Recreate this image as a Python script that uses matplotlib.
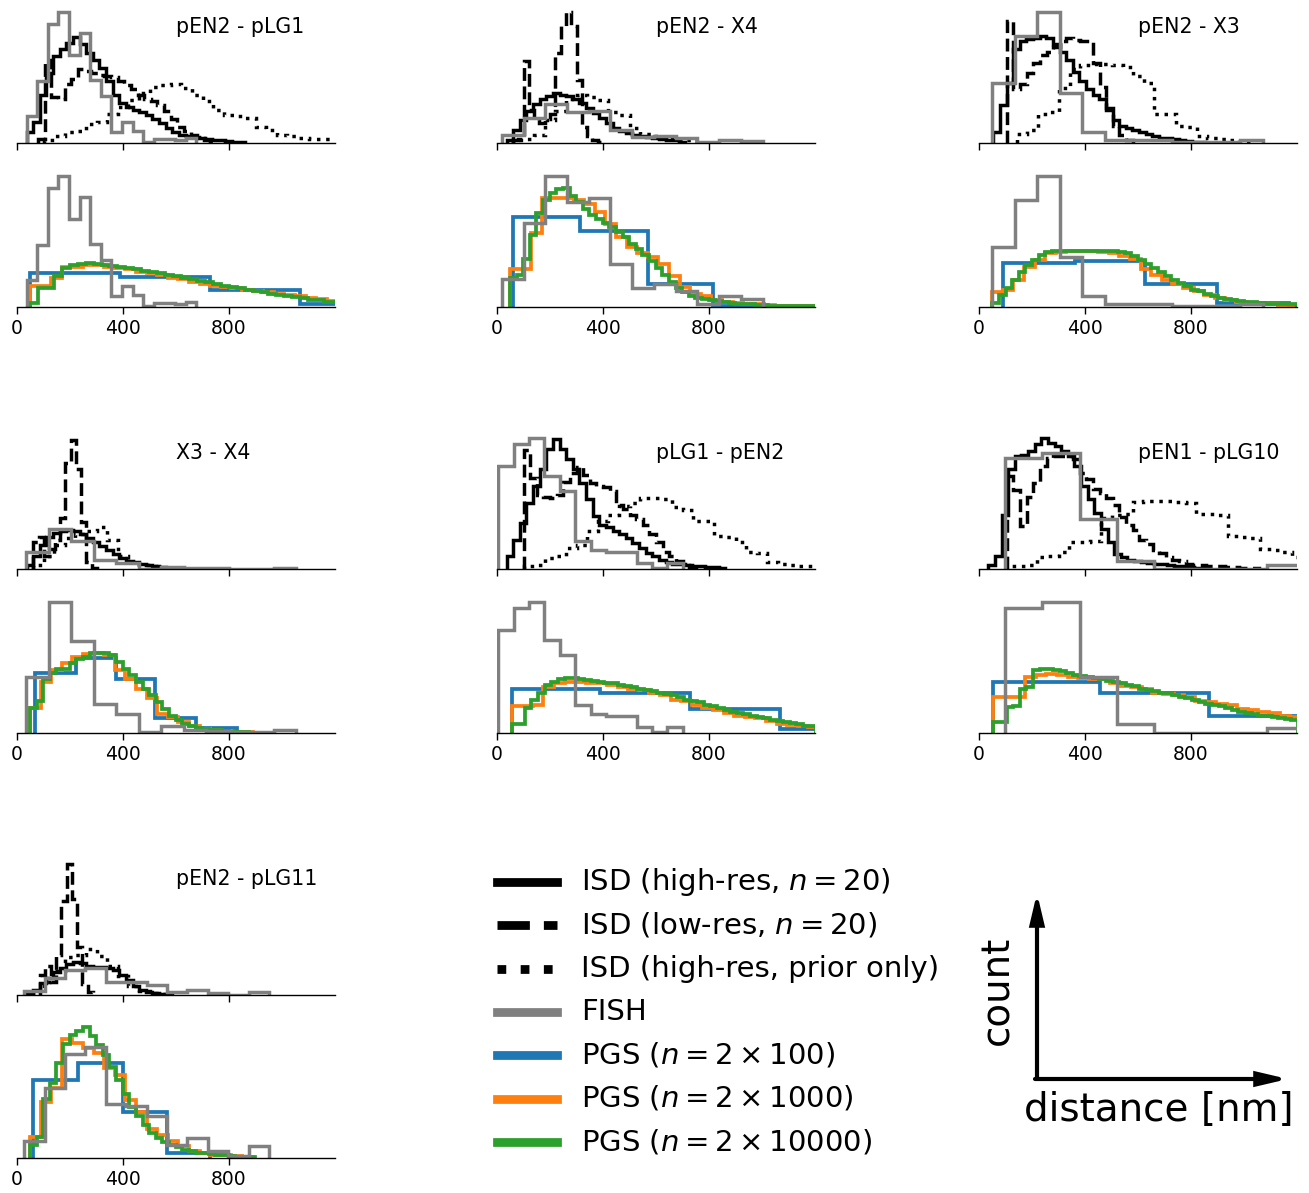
import matplotlib.pyplot as plt
import numpy as np
from matplotlib.lines import Line2D
from matplotlib.patches import FancyArrowPatch

# panel names, in reading order
panels = ["pEN2 - pLG1", "pEN2 - X4", "pEN2 - X3",
          "X3 - X4", "pLG1 - pEN2", "pEN1 - pLG10",
          "pEN2 - pLG11"]

# (first bin edge [nm], bin width [nm], heights in % of axes height)
isd_hi = {
    "pEN2 - pLG1": (36, 25, [8, 16, 36, 52, 65, 70, 75, 79, 74, 67, 62, 56, 46, 36, 30, 27, 25, 23, 21, 18,
                             15, 11, 8, 6, 5, 4.5, 4, 3, 2.5, 2, 1.5, 1, 0.5]),
    "pEN2 - X4": (36, 25, [2.5, 10, 17.5, 24, 29, 32.5, 35, 37, 36, 35, 32.5, 30, 26, 22.5, 19, 15, 11, 9,
                           7.5, 6, 5, 4.5, 4, 3, 2.5, 2, 1]),
    "pEN2 - X3": (54, 25, [8, 28, 45, 70, 76, 77.5, 78, 80, 78, 74, 68, 62, 53, 46, 40, 36, 33, 26, 17, 13,
                           11, 10, 8, 7, 5, 4, 3.5, 3, 2.5, 1.5, 1, 0.5]),
    "X3 - X4": (36, 25, [3, 10, 18, 24, 27, 28, 29, 28, 26, 23, 20, 17, 14, 11, 8, 6, 5, 4, 3, 2, 1.5, 1, 0.5]),
    "pLG1 - pEN2": (36, 25, [9.5, 22, 34.5, 49.5, 62, 74.5, 89.5, 97, 89.5, 82, 74.5, 64.5, 52, 39.5, 33, 31,
                             28, 26, 23, 19.5, 16, 12, 9.5, 7, 5, 4, 3.5, 3, 2.5, 2, 1.5, 1.5, 1]),
    "pEN1 - pLG10": (35, 25, [3, 10, 40, 75, 84, 85, 88, 93, 98, 94, 92, 88, 84, 77, 62, 52, 42, 30, 20, 11,
                              9, 7, 6, 5, 4.5, 4, 3.5, 3, 2.5, 2, 1.5, 1, 0.5]),
    "pEN2 - pLG11": (36, 25, [1, 4, 9, 13, 17, 20, 23, 25, 24, 22, 21, 21, 20.5, 19, 15, 11, 7, 4, 2.5, 1.5,
                              1, 0.5]),
}
isd_lo = {
    "pEN2 - pLG1": (80, 25, [3, 62, 34, 33, 44, 48, 55, 54, 52, 51, 50, 49, 46, 43, 40, 36, 33, 31, 28, 24,
                             18, 12, 9, 6, 4, 2, 1]),
    "pEN2 - X4": (60, 20, [2, 3, 61, 25, 18, 15, 18, 22, 67, 87, 98, 87, 47, 12, 5, 2, 1]),
    "pEN2 - X3": (105, 25, [91, 40, 44, 52, 60, 66, 68, 72, 76, 78, 77, 76, 76, 60, 42, 25, 13, 6, 2]),
    "X3 - X4": (62, 20, [20, 24, 10, 15, 22, 38, 79, 96, 75, 35, 5, 1]),
    "pLG1 - pEN2": (100, 25, [89, 68, 55, 54, 53, 55, 65, 72, 76, 70, 64, 62, 61, 58, 48, 45, 40, 37, 33, 26,
                              20, 13, 10, 6, 3, 1]),
    "pEN1 - pLG10": (105, 25, [69.5, 59, 32, 54, 64, 77, 83, 84, 84.5, 84, 82, 72, 67, 60, 57, 53, 48, 39, 33,
                               29, 22, 19, 14, 12, 9, 7, 6, 4, 3, 3, 2.5, 2, 2, 1.5, 1.5, 1, 1, 0.5]),
    "pEN2 - pLG11": (87, 20, [15, 22, 10, 30, 70, 97.5, 72, 36, 8, 2]),
}
isd_prior = {
    "pEN2 - pLG1": (100, 40, [2, 5, 8, 9, 14, 16, 22, 27, 32, 37, 42, 43, 44, 41, 36, 31, 25, 21, 20, 19, 12,
                              10, 6, 5, 4, 3, 3]),
    "pEN2 - X4": (60, 40, [2, 3, 6, 17, 24, 33, 36, 34, 32, 23, 21, 11, 7, 5, 4, 3, 2, 1.5]),
    "pEN2 - X3": (142, 40, [7, 10, 22, 23, 41, 55, 58, 59, 59, 58, 57, 50, 45, 22, 22, 13, 12, 5, 4, 3, 2, 1]),
    "X3 - X4": (60, 40, [3, 10, 18, 23, 26, 28, 31, 22, 10, 5, 3, 2, 1]),
    "pLG1 - pEN2": (100, 40, [2, 3, 8, 10, 16, 18, 28, 36, 40, 47, 49, 53, 53, 52, 46, 44, 36, 36, 25, 24, 20,
                              13, 12, 5, 4, 3, 2, 2]),
    "pEN1 - pLG10": (100, 40, [2, 2, 3, 9, 10, 13, 20, 20, 21, 38, 40, 41, 50, 51, 51, 51, 50, 49, 41, 41, 40,
                               25, 24, 23, 15, 14, 13, 9]),
    "pEN2 - pLG11": (60, 40, [3, 10, 18, 28, 30, 34, 29, 22, 14, 7, 3, 1.5, 0.5]),
}
fish = {
    "pEN2 - pLG1": (36, 40, [20, 46, 89, 98, 66, 82, 47, 35, 8, 16, 9, 1, 3, 3, 2, 4]),
    "pEN2 - X4": (18, 82, [21, 63, 98, 78, 81, 32, 14.5, 17, 12, 2, 8, 6]),
    "pEN2 - X3": (50, 85, [44.5, 79.5, 98, 37, 8, 2.5, 2.5, 2, 1, 0.5, 0.5, 2]),
    "X3 - X4": (34, 85, [42, 97.5, 69, 22, 14.5, 1, 5, 2, 1.5, 1, 1, 2]),
    "pLG1 - pEN2": (5, 58, [77, 93, 98, 69.5, 58, 21, 14.5, 13, 13, 4.5, 0.75, 4.5]),
    "pEN1 - pLG10": (98, 141, [93, 97.5, 42, 7, 0, 0, 0, 3.75]),
    "pEN2 - pLG11": (27, 77, [12.5, 52.5, 77.5, 82.5, 40, 38.5, 31, 10, 15, 5, 1.25, 8.75]),
}
# height of the FISH peak in the upper (ISD) axes, % of axes height
fish_top_peak = {"pEN2 - pLG1": 98, "pEN2 - X4": 29, "pEN2 - X3": 98, "X3 - X4": 29.5,
                 "pLG1 - pEN2": 98, "pEN1 - pLG10": 86.5, "pEN2 - pLG11": 20}

# PGS n=2x100: (bin edges, heights)
pgs_100 = {
    "pEN2 - pLG1": ([49, 389, 729, 1068, 1250], [25, 22.5, 12.5, 2.5]),
    "pEN2 - X4": ([62, 313, 571, 816, 1250], [67, 57, 17.5, 1]),
    "pEN2 - X3": ([92, 363, 628, 898, 1169, 1440], [33, 34.5, 17, 3, 1]),
    "X3 - X4": ([68, 222, 372, 522, 676, 830], [44.5, 56, 40, 11, 4]),
    "pLG1 - pEN2": ([55, 389, 728, 1068, 1250], [32.5, 29.5, 18, 3]),
    "pEN1 - pLG10": ([54, 457, 867, 1270], [38, 29.5, 13]),
    "pEN2 - pLG11": ([62, 232, 400, 565, 730], [58, 71, 34, 4]),
}
pgs_1000 = {
    "pEN2 - pLG1": (49, 40, [16, 16, 22, 30, 30, 31, 31, 30, 29, 28, 26, 25, 24, 22, 21, 19, 17, 16, 15, 14,
                             13, 12, 11, 10, 9, 8, 7, 6, 4.5]),
    "pEN2 - X4": (49, 40, [28, 28, 55, 81, 81, 81, 80, 77, 71, 62, 52, 45, 40, 37, 32, 23, 15, 10, 8, 5, 4, 3,
                           2, 2, 1.5, 1, 1, 0.8, 0.5]),
    "pEN2 - X3": (50, 40, [11, 13, 20, 30, 35, 40, 41, 42, 42, 42, 41, 40, 38, 36, 28, 24, 20, 17, 14, 12, 9,
                           7, 5, 4, 3, 2.5, 2, 1.5, 1]),
    "X3 - X4": (49, 40, [19, 38, 47, 52, 57, 59, 59.5, 58, 47, 40, 33, 26, 14, 12, 8, 5, 3, 2, 1.5, 1, 0.5]),
    "pLG1 - pEN2": (55, 40, [20, 20, 21, 34, 37, 38, 38, 37.5, 37, 36, 34, 33, 32, 30, 28, 25, 24, 21, 19, 17,
                             15, 13, 12, 11, 9, 7, 6, 5, 4.5]),
    "pEN1 - pLG10": (54, 40, [26.5, 26.5, 26.5, 42, 43, 44, 43, 42, 41, 40.5, 40, 37, 35, 34.5, 33, 30, 29, 28,
                              27, 24, 23, 22, 21, 18, 17, 16, 15, 13, 12]),
    "pEN2 - pLG11": (49, 40, [16, 42, 52, 89, 86, 82, 78, 67, 62, 43, 34, 22, 17, 13, 9, 5, 3.5, 2.5, 2, 1.5,
                              1]),
}
pgs_10000 = {
    "pEN2 - pLG1": (49, 30, [3, 14, 14, 23, 29, 31, 32, 32.5, 32, 31, 30.5, 30, 29, 28, 27, 26, 25, 24, 23,
                             22, 21, 19.5, 18.5, 17, 16, 15, 14, 13, 12, 11, 10, 9, 8, 7.5, 6.5, 5.5, 5, 4,
                             3.5]),
    "pEN2 - X4": (49, 25, [22, 24, 36, 54, 70, 80, 85, 88, 89, 83, 78, 73, 69, 66, 63, 60, 56, 52, 47, 43, 39,
                           34, 29, 24, 19, 14, 11, 8.5, 7, 6, 5, 4.5, 4, 3, 2.5, 2, 2, 1.5, 1.5, 1, 1, 1,
                           0.8, 0.6, 0.5, 0.5]),
    "pEN2 - X3": (50, 25, [3, 9, 14, 20, 26, 31, 35, 39, 41, 42, 42, 42, 42, 42, 42, 42, 42, 42, 42, 41, 40,
                           38, 35, 32, 29, 26, 23, 20, 18, 16, 13, 12, 10, 8, 7, 6, 5, 4.5, 4, 3.5, 3, 2.5,
                           2.5, 2, 2, 2]),
    "X3 - X4": (49, 25, [19, 24, 40, 45, 48, 48, 52, 55, 57, 59.5, 59.5, 59.5, 58, 53, 48, 43, 38, 33, 28, 23,
                         18, 13, 10, 7, 5, 4, 3, 2.5, 2, 1.5, 1, 0.8, 0.5]),
    "pLG1 - pEN2": (55, 25, [7, 7, 19, 25, 30, 36, 38, 40, 41, 41, 40, 39.5, 39, 38, 37.5, 37, 36, 35, 34, 33,
                             32, 31, 30, 29, 28, 27, 25, 24, 23, 21, 20, 19, 17, 16, 15, 14, 13, 12, 11, 10,
                             9, 8, 7.5, 6.5, 5.5, 5]),
    "pEN1 - pLG10": (54, 25, [8, 8, 19.5, 20, 33, 34, 47, 47.5, 48, 47, 46, 45, 43, 42.5, 42, 41, 40, 39, 38,
                              37, 36, 35, 33, 32, 31, 30, 29.5, 28.5, 27, 26, 25, 23, 22, 21, 20, 18.5, 17.5,
                              16, 15, 14, 13, 12.5, 12, 11, 10.5, 10]),
    "pEN2 - pLG11": (49, 25, [10, 16, 44, 56, 71, 85, 92, 95, 97.5, 91, 84, 77, 68, 58, 48, 38, 31, 25, 19,
                              15, 12, 10, 8, 6, 5, 4, 3.5, 3, 2.5, 2, 1.5, 1, 0.8, 0.5]),
}

xticks = [0, 400, 800]
xtick_labels = ["0", "400", "800"]

legend_labels = [r"ISD (high-res, $n = 20$)", r"ISD (low-res, $n = 20$)",
                 "ISD (high-res, prior only)", "FISH",
                 r"PGS ($n = 2 \times 100$)", r"PGS ($n = 2 \times 1000$)",
                 r"PGS ($n = 2 \times 10000$)"]

C_BLUE, C_ORANGE, C_GREEN, C_GRAY = "#1f77b4", "#ff7f0e", "#2ca02c", "gray"

W, H = 1309, 1193
fig = plt.figure(figsize=(W / 100, H / 100), dpi=100)

col_left = [17, 497, 979]
row_spines = [(143, 307), (569, 733), (995, 1158)]
AX_W, AX_H = 318, 134
LW = 2.5


def fx(x):
    return x / W


def fy(y):
    return 1 - y / H


def reg_stairs(ax, series, scale=1.0, **kw):
    start, width, h = series
    edges = start + width * np.arange(len(h) + 1)
    ax.stairs(np.asarray(h) * scale, edges, **kw)


def style(ax, labels):
    for s in ["left", "top", "right"]:
        ax.spines[s].set_visible(False)
    ax.spines["bottom"].set_linewidth(1.0)
    ax.set_yticks([])
    ax.set_xticks(xticks)
    ax.set_xticklabels(xtick_labels if labels else [])
    ax.tick_params(axis="x", length=5, width=1, labelsize=13.5)
    ax.set_xlim(0, 1200)
    ax.set_ylim(0, 100)


for i, name in enumerate(panels):
    r, c = divmod(i, 3)
    x0 = col_left[c]
    y_top, y_bot = row_spines[r]
    ax_t = fig.add_axes([fx(x0), fy(y_top), AX_W / W, AX_H / H])
    ax_b = fig.add_axes([fx(x0), fy(y_bot), AX_W / W, AX_H / H])

    # upper: ISD + FISH
    reg_stairs(ax_t, isd_prior[name], color="k", lw=LW, ls=":")
    reg_stairs(ax_t, isd_lo[name], color="k", lw=LW, ls="--")
    reg_stairs(ax_t, isd_hi[name], color="k", lw=LW)
    f_scale = fish_top_peak[name] / max(fish[name][2])
    reg_stairs(ax_t, fish[name], scale=f_scale, color=C_GRAY, lw=LW)
    style(ax_t, False)
    ax_t.text(0.5, 0.82, name, transform=ax_t.transAxes, ha="left", va="baseline", fontsize=14.8)

    # lower: PGS + FISH
    e100, h100 = pgs_100[name]
    ax_b.stairs(h100, e100, color=C_BLUE, lw=LW + 0.2)
    reg_stairs(ax_b, pgs_1000[name], color=C_ORANGE, lw=LW + 0.2)
    reg_stairs(ax_b, pgs_10000[name], color=C_GREEN, lw=LW + 0.2)
    reg_stairs(ax_b, fish[name], color=C_GRAY, lw=LW)
    style(ax_b, True)

# legend, drawn by hand
leg_styles = [dict(color="k", ls="-"), dict(color="k", ls="--"), dict(color="k", ls=":"),
              dict(color=C_GRAY, ls="-"), dict(color=C_BLUE, ls="-"),
              dict(color=C_ORANGE, ls="-"), dict(color=C_GREEN, ls="-")]
for k, (lab, st) in enumerate(zip(legend_labels, leg_styles)):
    y = 882 + 43.3 * k
    fig.add_artist(Line2D([fx(497), fx(557)], [fy(y), fy(y)], transform=fig.transFigure,
                          lw=6.3, solid_capstyle="projecting", dash_capstyle="butt", **st))
    fig.text(fx(581), fy(y), lab, ha="left", va="center", fontsize=21)

# axis schematic
for p0, p1 in [((1037, 1079), (1037, 893)), ((1035, 1079), (1288, 1079))]:
    fig.add_artist(FancyArrowPatch((fx(p0[0]), fy(p0[1])), (fx(p1[0]), fy(p1[1])),
                                   transform=fig.transFigure,
                                   arrowstyle="-|>,head_length=0.85,head_width=0.2",
                                   mutation_scale=20, lw=3, color="k",
                                   shrinkA=0, shrinkB=0, joinstyle="miter"))
fig.text(fx(997), fy(990), "count", rotation=90, ha="center", va="center", fontsize=28)
fig.text(fx(1159), fy(1121), "distance [nm]", ha="center", va="baseline", fontsize=28)

fig.savefig("out.png", dpi=100)
